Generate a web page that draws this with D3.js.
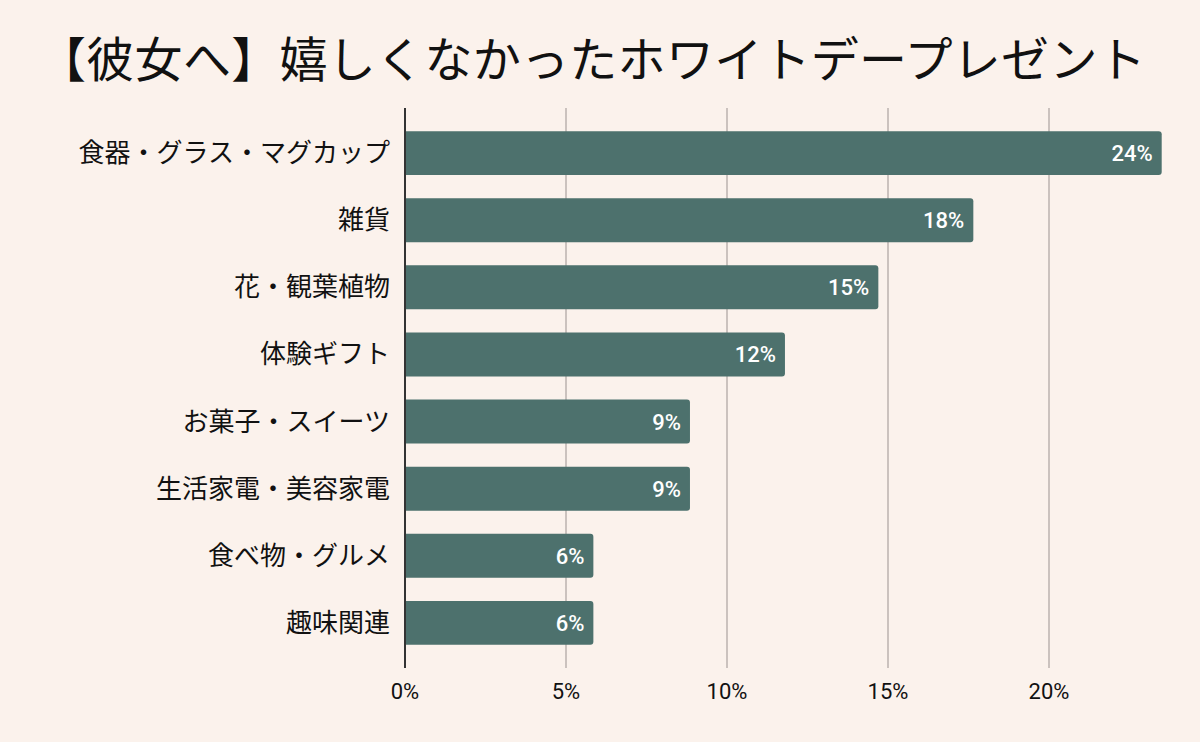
<!DOCTYPE html>
<html><head><meta charset="utf-8">
<script src="https://cdn.jsdelivr.net/npm/d3@7"></script>
<style>
html,body{margin:0;padding:0;background:#fbf2ec;}
</style></head>
<body>
<svg id="chart" width="1200" height="742"></svg>
<script>
const title = "【彼女へ】嬉しくなかったホワイトデープレゼント";
const categories = ["食器・グラス・マグカップ","雑貨","花・観葉植物","体験ギフト","お菓子・スイーツ","生活家電・美容家電","食べ物・グルメ","趣味関連"];
const values = [23.5, 17.65, 14.7, 11.8, 8.85, 8.85, 5.85, 5.85];
const labels = ["24%","18%","15%","12%","9%","9%","6%","6%"];
const ticks = [0,5,10,15,20];
const tickLabels = ["0%","5%","10%","15%","20%"];

const svg = d3.select("#chart");
svg.append("rect").attr("width",1200).attr("height",742).attr("fill","#fbf2ec");

const x = d3.scaleLinear().domain([0,20]).range([405,1049]);
const y = d3.scaleBand().domain(categories).range([108,668]).paddingInner(0.345).paddingOuter(0.345);

svg.append("text").attr("x",592).attr("y",77).attr("text-anchor","middle")
  .attr("font-family","'Noto Sans CJK JP'").attr("font-size",48).attr("letter-spacing",0.3)
  .attr("fill","#111").text(title);

// grid
svg.append("g").selectAll("line").data(ticks.slice(1)).join("line")
  .attr("x1",d=>x(d)).attr("x2",d=>x(d)).attr("y1",108).attr("y2",668)
  .attr("stroke","#cbc2be").attr("stroke-width",2);

// bars with right rounded corners
const r = 3;
svg.append("g").selectAll("path").data(categories).join("path")
  .attr("fill","#4d716d")
  .attr("d",(c,i)=>{
    const x0 = x(0), x1 = x(values[i]), y0 = y(c), h = y.bandwidth();
    return `M${x0},${y0}H${x1-r}Q${x1},${y0} ${x1},${y0+r}V${y0+h-r}Q${x1},${y0+h} ${x1-r},${y0+h}H${x0}Z`;
  });

// value labels
svg.append("g").selectAll("text").data(categories).join("text")
  .attr("x",(c,i)=>x(values[i])-9).attr("y",c=>y(c)+y.bandwidth()/2+8)
  .attr("text-anchor","end").attr("font-family","Roboto").attr("font-weight",500)
  .attr("font-size",22).attr("fill","#fff").text((c,i)=>labels[i]);

// category labels
svg.append("g").selectAll("text").data(categories).join("text")
  .attr("x",390).attr("y",c=>y(c)+y.bandwidth()/2+9)
  .attr("text-anchor","end").attr("font-family","'Noto Sans CJK JP'")
  .attr("font-size",26).attr("fill","#111").text(c=>c);

// axis line
svg.append("line").attr("x1",x(0)).attr("x2",x(0)).attr("y1",108).attr("y2",668)
  .attr("stroke","#333").attr("stroke-width",2);

// tick labels
svg.append("g").selectAll("text").data(ticks).join("text")
  .attr("x",d=>x(d)).attr("y",699).attr("text-anchor","middle")
  .attr("font-family","Roboto").attr("font-size",22).attr("fill","#111")
  .text((d,i)=>tickLabels[i]);
</script>
</body></html>
